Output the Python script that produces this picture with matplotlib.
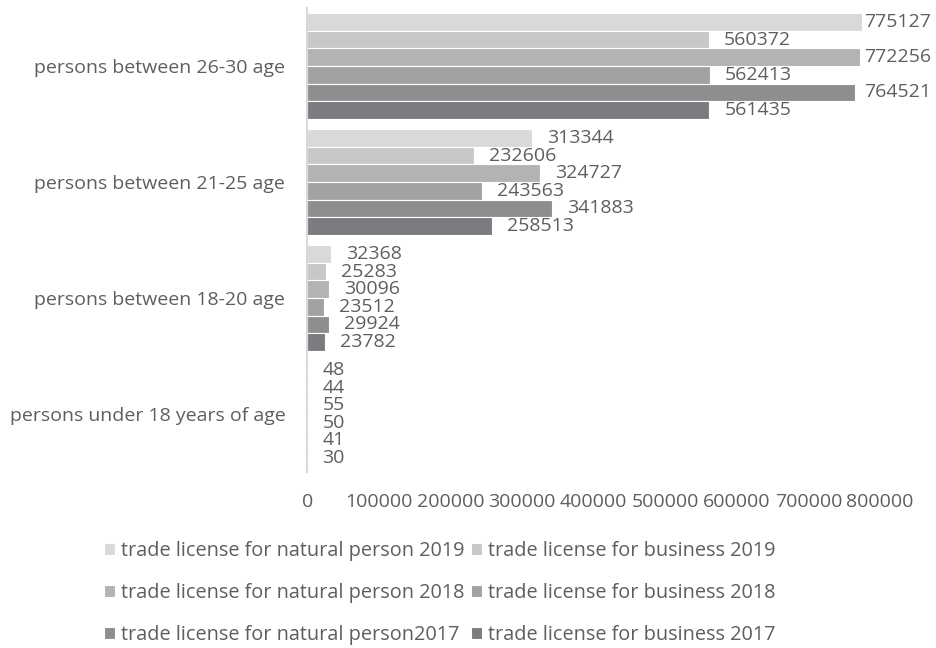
import matplotlib.pyplot as plt
import numpy as np

plt.rcParams['font.family'] = ['Open Sans', 'DejaVu Sans']

categories = ['persons under 18 years of age', 'persons between 18-20 age',
              'persons between 21-25 age', 'persons between 26-30 age']
series = ['trade license for natural person 2019', 'trade license for business 2019',
          'trade license for natural person 2018', 'trade license for business 2018',
          'trade license for natural person2017', 'trade license for business 2017']
# one list per series, values in the order of categories
natural_2019 = [48, 32368, 313344, 775127]
business_2019 = [44, 25283, 232606, 560372]
natural_2018 = [55, 30096, 324727, 772256]
business_2018 = [50, 23512, 243563, 562413]
natural_2017 = [41, 29924, 341883, 764521]
business_2017 = [30, 23782, 258513, 561435]
values = [natural_2019, business_2019, natural_2018, business_2018, natural_2017, business_2017]
colors = ['#d9d9d9', '#c7c8c9', '#b2b3b5', '#a1a2a4', '#8d8e90', '#7b7c7f']
text_color = '#5e5e5e'

fig = plt.figure(figsize=(9.37, 6.48), dpi=100)
ax = fig.add_axes([307.5 / 937, 1 - 472 / 648, 572.5 / 937, 464 / 648])

y = np.arange(len(categories))
h = 0.151
labels = []
for i, (vals, col) in enumerate(zip(values, colors)):
    pos = y + (2.5 - i) * h
    ax.barh(pos, vals, height=h, color=col, edgecolor='white', linewidth=0.8, label=series[i])
    for p, v in zip(pos, vals):
        t = ax.annotate(str(v), (v, p), xytext=(15, 0), textcoords='offset pixels',
                        ha='left', va='center', fontsize=14, color=text_color)
        labels.append(t)

ax.set_xlim(0, 800000)
ax.set_ylim(-0.5, len(categories) - 0.5)
ax.set_xticks(np.arange(0, 800001, 100000))
ax.set_xticklabels([str(v) for v in range(0, 800001, 100000)])
ax.set_yticks(y)
ax.set_yticklabels(categories)
ax.tick_params(axis='both', length=0, labelsize=14, colors=text_color)
ax.tick_params(axis='y', pad=16)
ax.tick_params(axis='x', pad=15)
for s in ['top', 'right', 'bottom']:
    ax.spines[s].set_visible(False)
ax.spines['left'].set_color('#d9d9d9')
ax.spines['left'].set_linewidth(1.5)

# legend filled column-wise, so natural person entries go in the first column
handles, names = ax.get_legend_handles_labels()
order = [0, 2, 4, 1, 3, 5]
leg = fig.legend([handles[k] for k in order], [names[k] for k in order],
                 loc='upper left', bbox_to_anchor=(104 / 937, 1 - 541 / 648),
                 ncol=2, frameon=False, fontsize=14.3, labelcolor=text_color,
                 handlelength=0.55, handleheight=0.55, handletextpad=0.3,
                 columnspacing=0.35, labelspacing=1.12, borderpad=0, borderaxespad=0)

# keep the long data labels inside the figure
fig.canvas.draw()
renderer = fig.canvas.get_renderer()
limit = 931
for t in labels:
    bb = t.get_window_extent(renderer)
    if bb.x1 > limit:
        t.xyann = (t.xyann[0] - (bb.x1 - limit), 0)

fig.savefig('out.png', dpi=100)
